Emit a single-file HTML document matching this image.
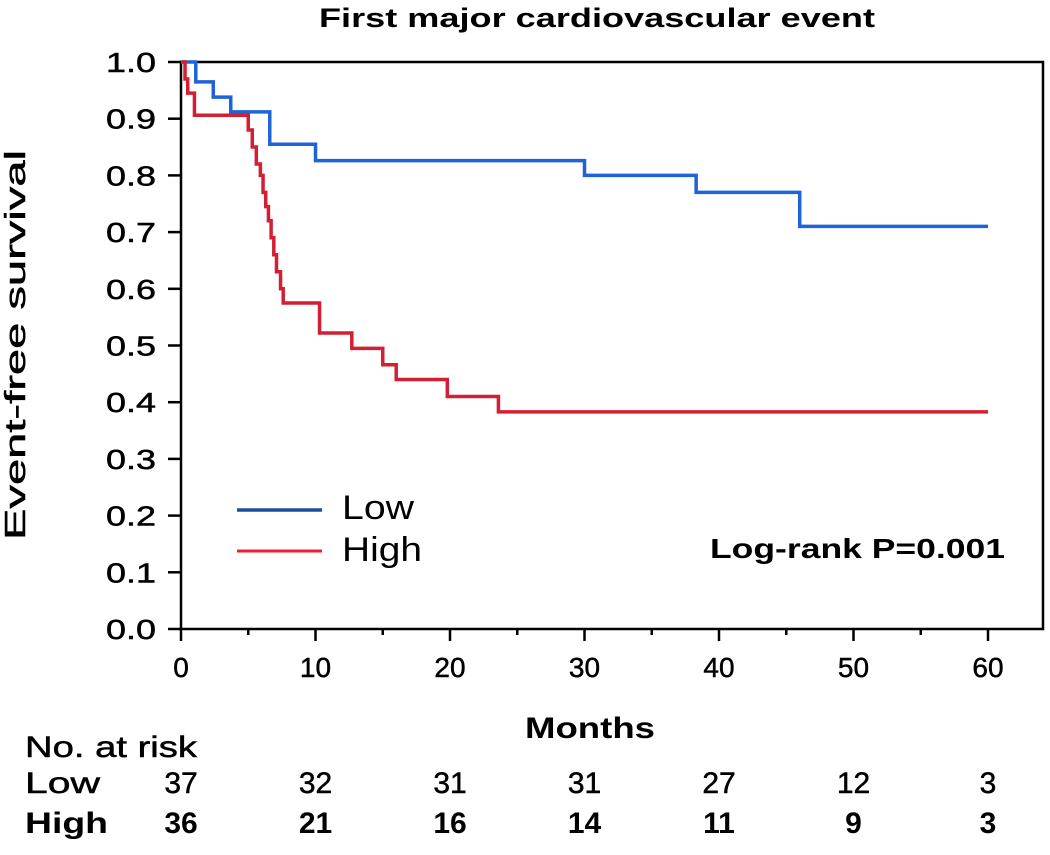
<!DOCTYPE html>
<html><head><meta charset="utf-8"><style>
body{margin:0;background:#fff}
svg text{font-family:"Liberation Sans",Arial,sans-serif}
</style></head><body>
<svg id="c" width="1050" height="850" viewBox="0 0 1050 850"></svg>
<script>
const xTicks=[0,10,20,30,40,50,60];
const yTicks=[0,0.1,0.2,0.3,0.4,0.5,0.6,0.7,0.8,0.9,1.0];
const lowT=[0,1.1,2.4,3.7,6.6,10,30,38.3,46,60];
const lowS=[1,0.965,0.938,0.912,0.855,0.826,0.80,0.77,0.71,0.71];
const highT=[0,0.3,0.5,1.0,5.0,5.3,5.6,5.9,6.1,6.3,6.5,6.7,6.9,7.1,7.4,7.6,10.3,12.7,15.0,16.0,19.8,23.6,60];
const highS=[1,0.97,0.945,0.906,0.88,0.85,0.82,0.80,0.77,0.745,0.72,0.69,0.66,0.63,0.60,0.575,0.522,0.495,0.466,0.44,0.41,0.383,0.383];
const riskLow=[37,32,31,31,27,12,3];
const riskHigh=[36,21,16,14,11,9,3];
const NS="http://www.w3.org/2000/svg",svg=document.getElementById('c');
const X=t=>181+t*(807/60), Y=s=>629-s*567;
function el(tag,attrs,txt){const e=document.createElementNS(NS,tag);for(const k in attrs)e.setAttribute(k,attrs[k]);if(txt!==undefined)e.textContent=txt;svg.appendChild(e);return e;}
const thick={stroke:'#000','stroke-width':0.5};
const LA='spacingAndGlyphs';
let e;
e=el('text',{x:319,y:27,'font-size':27,'font-weight':'bold',textLength:556,lengthAdjust:LA},'First major cardiovascular event');


e=el('rect',{x:181,y:62,width:862,height:567,fill:'none',stroke:'#000','stroke-width':2.5});


yTicks.forEach(v=>{
 e=el('line',{x1:168,x2:181,y1:Y(v),y2:Y(v),stroke:'#000','stroke-width':2.5});
 
 
 e=el('text',{x:106,y:Y(v)+10,'font-size':28,...thick,textLength:50,lengthAdjust:LA},v.toFixed(1));
 
 
});
for(let t=0;t<=60;t+=5){
 e=el('line',{x1:X(t),x2:X(t),y1:629,y2:629+(t%10===0?12:6),stroke:'#000','stroke-width':2.5});
 
 
}
xTicks.forEach((t,i)=>{
 e=el('text',{x:X(t),y:677,'text-anchor':'middle','font-size':28,...thick},String(t));
 
 
 e=el('text',{x:X(t),y:793,'text-anchor':'middle','font-size':30,...thick},String(riskLow[i]));
 
 
 e=el('text',{x:X(t),y:833,'text-anchor':'middle','font-size':30,'font-weight':'bold'},String(riskHigh[i]));
 
 
});
e=el('text',{x:25,y:345,'text-anchor':'middle','font-size':29,...thick,textLength:390,lengthAdjust:LA,transform:'rotate(-90 25 345)'},'Event-free survival');


e=el('text',{x:525,y:738,'font-size':30,'font-weight':'bold',textLength:130,lengthAdjust:LA},'Months');


e=el('text',{x:25,y:757,'font-size':30,...thick,textLength:172,lengthAdjust:LA},'No. at risk');


e=el('text',{x:25,y:793,'font-size':30,...thick,textLength:75,lengthAdjust:LA},'Low');


e=el('text',{x:25,y:833,'font-size':30,'font-weight':'bold',textLength:83,lengthAdjust:LA},'High');


function step(T,S){let d='M'+X(T[0])+','+Y(S[0]);for(let i=1;i<T.length;i++){d+='H'+X(T[i])+'V'+Y(S[i]);}return d;}
e=el('path',{d:step(lowT,lowS),fill:'none',stroke:'#1f63d8','stroke-width':3.5});


e=el('path',{d:step(highT,highS),fill:'none',stroke:'#d41f33','stroke-width':3.5});


e=el('line',{x1:237,x2:322,y1:510,y2:510,stroke:'#1c4f9c','stroke-width':3.5});


e=el('text',{x:342,y:519,'font-size':34,textLength:72,lengthAdjust:LA},'Low');


e=el('line',{x1:237,x2:322,y1:551,y2:551,stroke:'#f02030','stroke-width':3});


e=el('text',{x:342,y:561,'font-size':34,textLength:80,lengthAdjust:LA},'High');


e=el('text',{x:710,y:558,'font-size':28,'font-weight':'bold',textLength:295,lengthAdjust:LA},'Log-rank P=0.001');


</script>
</body></html>
